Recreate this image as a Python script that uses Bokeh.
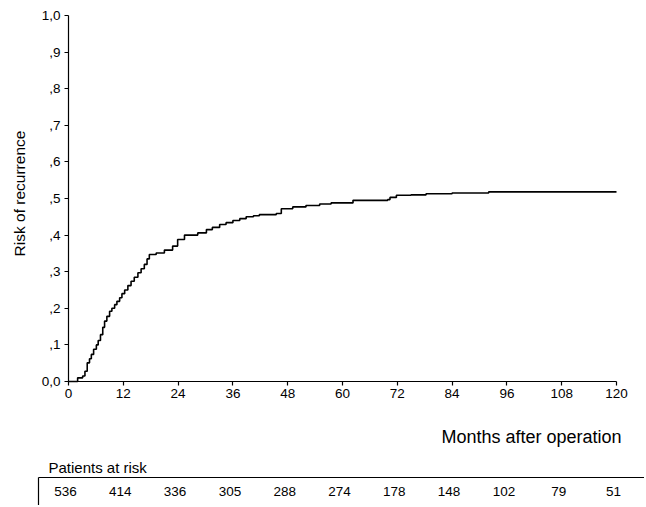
import math
from bokeh.plotting import figure
from bokeh.models import Range1d, FixedTicker, ColumnDataSource
from bokeh.core.properties import value
from bokeh.embed import file_html
from bokeh.resources import INLINE

# ---- data ----
months = [0, 2.0, 3.1, 3.6, 4.1, 4.6, 5.0, 5.5, 6.1, 6.5, 7.0, 7.5, 7.9, 8.4, 9.0, 9.5,
          10.1, 10.6, 11.2, 11.7, 12.3, 13.0, 13.7, 14.4, 15.2, 15.9, 16.6, 17.2, 17.7,
          19.2, 21.0, 22.8, 23.9, 25.4, 28.3, 30.2, 31.5, 33.1, 34.5, 36.0, 37.5, 38.9,
          40.5, 41.8, 45.5, 46.6, 49.1, 52.0, 55.0, 57.5, 62.3, 69.9, 70.4, 71.8, 75.0,
          78.3, 84.0, 92.0, 120]
risk = [0.0, 0.010, 0.015, 0.028, 0.051, 0.062, 0.074, 0.088, 0.100, 0.112, 0.128, 0.148,
        0.165, 0.178, 0.192, 0.200, 0.210, 0.219, 0.229, 0.240, 0.250, 0.262, 0.274, 0.285,
        0.297, 0.308, 0.320, 0.335, 0.347, 0.351, 0.359, 0.370, 0.388, 0.400, 0.406, 0.415,
        0.421, 0.429, 0.434, 0.440, 0.445, 0.450, 0.453, 0.456, 0.459, 0.472, 0.477, 0.481,
        0.485, 0.488, 0.495, 0.497, 0.503, 0.509, 0.510, 0.513, 0.515, 0.518, 0.518]

x_ticks = [0, 12, 24, 36, 48, 60, 72, 84, 96, 108, 120]
y_ticks = [0.0, 0.1, 0.2, 0.3, 0.4, 0.5, 0.6, 0.7, 0.8, 0.9, 1.0]
y_tick_labels = ["0,0", ",1", ",2", ",3", ",4", ",5", ",6", ",7", ",8", ",9", "1,0"]
at_risk_months = [0, 12, 24, 36, 48, 60, 72, 84, 96, 108, 120]
at_risk = [536, 414, 336, 305, 288, 274, 178, 148, 102, 79, 51]

FONT = "Liberation Sans"
W, H = 644, 505

# layout constants (figure pixels): where month 0 / risk 0 sit and their scale
X0_PX, X_PX_PER_MONTH = 68.0, 548.0 / 120.0
Y0_PX, Y_PX_PER_UNIT = 381.0, 366.0

def dx(px):
    return (px - X0_PX) / X_PX_PER_MONTH

def dy(py):
    return (Y0_PX - py) / Y_PX_PER_UNIT

p = figure(width=W, height=H, output_backend="svg", toolbar_location=None,
           x_range=Range1d(dx(0), dx(W)), y_range=Range1d(dy(H), dy(0)),
           min_border_left=0, min_border_right=0, min_border_top=0, min_border_bottom=0)
p.outline_line_color = None
p.xgrid.visible = False
p.ygrid.visible = False
p.background_fill_color = "white"
p.border_fill_color = "white"

p.step(months, risk, mode="after", line_color="black", line_width=1.6)

for ax in (p.xaxis[0], p.yaxis[0]):
    ax.fixed_location = 0
    ax.axis_line_color = "black"
    ax.axis_line_width = 1.2
    ax.major_tick_line_color = "black"
    ax.major_tick_line_width = 1.2
    ax.major_tick_out = 4
    ax.major_tick_in = 0
    ax.minor_tick_line_color = None
    ax.major_label_text_font = FONT
    ax.major_label_text_font_size = "13.5px"
    ax.major_label_text_color = "black"

p.xaxis.bounds = (0, 120)
p.xaxis.ticker = FixedTicker(ticks=x_ticks)
p.xaxis.major_label_standoff = 3
p.yaxis.bounds = (0, 1)
p.yaxis.ticker = FixedTicker(ticks=y_ticks)
p.yaxis.major_label_overrides = {t: l for t, l in zip(y_ticks, y_tick_labels)}
p.yaxis.major_label_standoff = 4

# axis titles
p.text(x=[dx(19)], y=[dy(193)], text=["Risk of recurrence"], angle=math.pi / 2,
       text_font=value(FONT), text_font_size="15.5px", text_align="center",
       text_baseline="middle", text_color="black")
p.text(x=[dx(621)], y=[dy(436)], text=["Months after operation"],
       text_font=value(FONT), text_font_size="18px", text_align="right",
       text_baseline="middle", text_color="black")

# ---- patients-at-risk table ----
p.text(x=[dx(48)], y=[dy(467)], text=["Patients  at  risk"], text_font=value(FONT),
       text_font_size="15px", text_align="left", text_baseline="middle", text_color="black")
p.segment(x0=[dx(38)], y0=[dy(477)], x1=[dx(W)], y1=[dy(477)], line_color="black", line_width=1.2)
p.segment(x0=[dx(38)], y0=[dy(477)], x1=[dx(38)], y1=[dy(H)], line_color="black", line_width=1.2)
src = ColumnDataSource(dict(x=at_risk_months, y=[dy(491)] * len(at_risk),
                            t=[str(v) for v in at_risk]))
p.text(x="x", y="y", text="t", source=src, x_offset=-3, text_font=value(FONT),
       text_font_size="13.5px", text_align="center", text_baseline="middle", text_color="black")

open("out.html", "w").write(file_html(p, INLINE))
